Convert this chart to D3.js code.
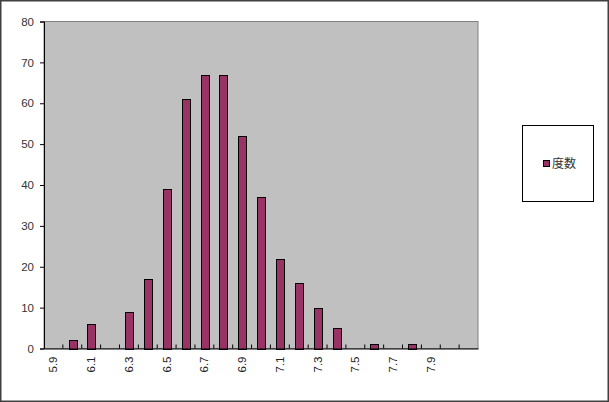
<!DOCTYPE html>
<html><head><meta charset="utf-8">
<script src="https://cdn.jsdelivr.net/npm/d3@7"></script>
<style>html,body{margin:0;padding:0;background:#fff;}svg{display:block;}</style>
</head><body>
<svg id="chart" width="609" height="402"></svg>
<script>
const categories = ["5.9","6.0","6.1","6.2","6.3","6.4","6.5","6.6","6.7","6.8","6.9","7.0","7.1","7.2","7.3","7.4","7.5","7.6","7.7","7.8","7.9","8.0","8.1"];
const values = [0,2,6,0,9,17,39,61,67,67,52,37,22,16,10,5,0,1,0,1,0,0,0];
const tickLabels = ["5.9","6.1","6.3","6.5","6.7","6.9","7.1","7.3","7.5","7.7","7.9"];
const yTicks = [0,10,20,30,40,50,60,70,80];
const seriesName = "度数";

const svg = d3.select("#chart");
const font = "'Liberation Sans', 'Noto Sans CJK JP', sans-serif";
const L = 44, R = 478, T = 21.5, B = 348.5;

// outer frame
svg.append("rect").attr("x",0.75).attr("y",0.75).attr("width",607.5).attr("height",400.5)
  .attr("fill","#fff").attr("stroke","#404040").attr("stroke-width",1.5);

const x = d3.scaleBand().domain(categories).range([L,R]).paddingInner(0).paddingOuter(0);
const y = d3.scaleLinear().domain([0,80]).range([B,T]);

// plot area
svg.append("rect").attr("x",L).attr("y",T).attr("width",R-L).attr("height",B-T)
  .attr("fill","#c0c0c0").attr("stroke","#808080").attr("stroke-width",1);

// bars
const bw = x.bandwidth()/2.5;
svg.append("g").selectAll("rect").data(categories.map((c,i)=>({c,v:values[i]})).filter(d=>d.v>0))
  .join("rect")
  .attr("x",d=>Math.round(x(d.c)+(x.bandwidth()-bw)/2)+0.5)
  .attr("y",d=>Math.round(y(d.v))+0.5)
  .attr("width",Math.round(bw))
  .attr("height",d=>Math.round(B)-Math.round(y(d.v)))
  .attr("fill","#993366").attr("stroke","#000").attr("stroke-width",1);

// y axis
const yAxis = d3.axisLeft(y).tickValues(yTicks).tickSize(4).tickPadding(6).tickFormat(d3.format("d"));
const gy = svg.append("g").attr("transform",`translate(${L},0)`).call(yAxis);
gy.select(".domain").attr("stroke","#000");
gy.selectAll(".tick line").attr("stroke","#000");
gy.selectAll("text").attr("font-family",font).attr("font-size","11.5px").attr("fill","#333");

// x axis
const xAxis = d3.axisBottom(x).tickSize(0).tickFormat(d=>tickLabels.includes(d)?d:"");
const gx = svg.append("g").attr("transform",`translate(0,${B})`).call(xAxis);
gx.select(".domain").attr("stroke","#000");
gx.selectAll("text").attr("font-family",font).attr("font-size","11.5px").attr("fill","#222")
  .attr("transform","rotate(-90)").attr("text-anchor","end").attr("dy","0.35em").attr("y",0).attr("x",-8);
// category boundary ticks
gx.append("g").selectAll("line").data(categories.slice(1)).join("line")
  .attr("x1",d=>x(d)).attr("x2",d=>x(d)).attr("y1",0).attr("y2",-4)
  .attr("stroke","#000").attr("stroke-width",1);

// legend
svg.append("rect").attr("x",522.5).attr("y",125.5).attr("width",71).attr("height",76)
  .attr("fill","#fff").attr("stroke","#000").attr("stroke-width",1);
svg.append("rect").attr("x",543.5).attr("y",160.5).attr("width",6).attr("height",6)
  .attr("fill","#993366").attr("stroke","#000").attr("stroke-width",1);
svg.append("text").attr("x",552).attr("y",168).attr("font-family","'Noto Sans CJK JP', sans-serif")
  .attr("font-size","12px").attr("fill","#333").text(seriesName);
</script>
</body></html>
